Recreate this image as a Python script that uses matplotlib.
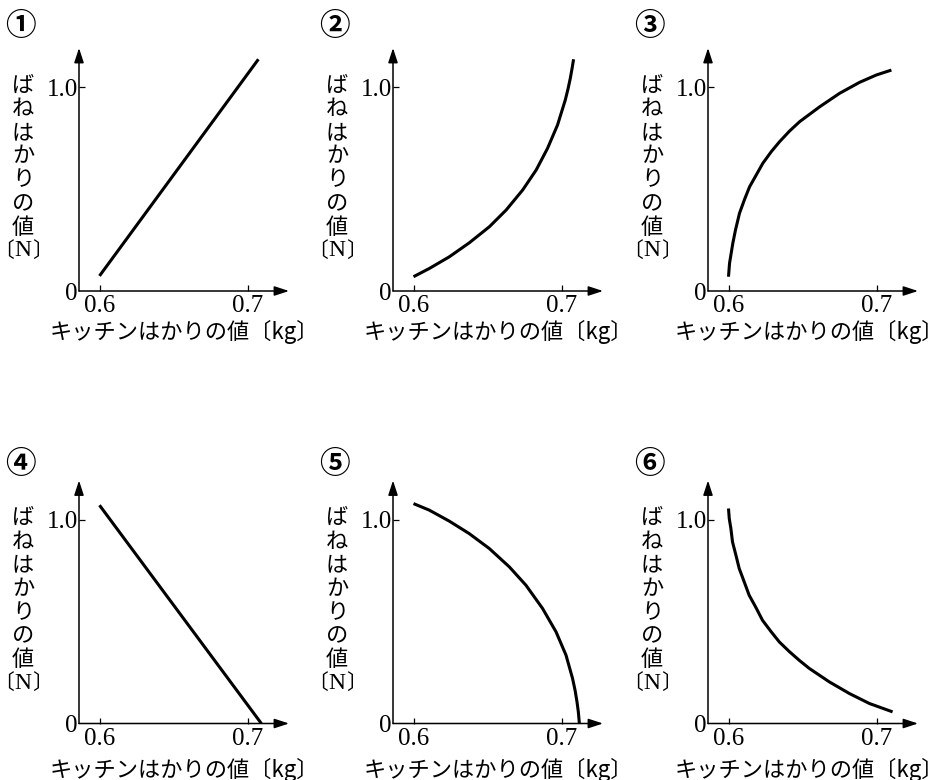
import matplotlib
matplotlib.use('agg')
from matplotlib import pyplot as plt

plt.rcParams['font.family'] = ['Noto Sans CJK JP', 'DejaVu Sans']

# ---- data (x: kitchen scale kg, y: spring scale N)
panel_marks = ["①", "②", "③", "④", "⑤", "⑥"]

x1 = [0.600, 0.707]
y1 = [0.074, 1.136]

x2 = [0.600, 0.6108, 0.6242, 0.6377, 0.6511, 0.6624, 0.6735, 0.6826, 0.6903, 0.6970, 0.7022,
      0.7040, 0.7056, 0.7068, 0.7078]
y2 = [0.070, 0.111, 0.168, 0.237, 0.315, 0.397, 0.495, 0.593, 0.700, 0.814, 0.936,
      0.989, 1.043, 1.092, 1.136]

x3 = [0.600, 0.6007, 0.6018, 0.6029, 0.6047, 0.6074, 0.6108, 0.6142, 0.6187, 0.6231, 0.6288,
      0.6344, 0.6411, 0.6479, 0.6614, 0.6748, 0.6883, 0.6996, 0.7097]
y3 = [0.070, 0.136, 0.185, 0.234, 0.299, 0.381, 0.449, 0.511, 0.569, 0.626, 0.683,
      0.732, 0.784, 0.830, 0.903, 0.969, 1.023, 1.059, 1.083]

x4 = [0.600, 0.709]
y4 = [1.070, 0.000]

x5 = [0.600, 0.6106, 0.6241, 0.6375, 0.6510, 0.6645, 0.6757, 0.6869, 0.6960, 0.7027, 0.7071,
      0.7088, 0.7101, 0.7110, 0.7117]
y5 = [1.078, 1.046, 0.992, 0.931, 0.858, 0.768, 0.678, 0.564, 0.449, 0.335, 0.221,
      0.163, 0.106, 0.057, 0.000]

x6 = [0.600, 0.6005, 0.6016, 0.6027, 0.6050, 0.6072, 0.6106, 0.6139, 0.6185, 0.6229, 0.6286,
      0.6342, 0.6409, 0.6476, 0.6544, 0.6679, 0.6814, 0.6949, 0.7105]
y6 = [1.054, 1.005, 0.956, 0.890, 0.825, 0.760, 0.694, 0.629, 0.568, 0.506, 0.451,
      0.400, 0.353, 0.310, 0.270, 0.204, 0.147, 0.098, 0.057]

xs = [x1, x2, x3, x4, x5, x6]
ys = [y1, y2, y3, y4, y5, y6]

x_ticks = [0.6, 0.7]
x_tick_labels = ["0.6", "0.7"]
y_ticks = [0.0, 1.0]
y_tick_labels = ["0", "1.0"]

x_label = "キッチンはかりの値〔kg〕"
y_label_chars = ["ば", "ね", "は", "か", "り", "の", "値"]
y_unit = "N"

# ---- layout (pixels)
W, H = 946, 780
col_x = [79, 393, 708]      # where each y axis sits
row_y = [291, 723.5]        # where each x axis sits
xlab_off = [41, 46]         # x label centre below the axis
xlab_dx = [0, 0, -4]        # keep the right-hand labels inside the frame
mark_off = [265, 259]       # circled number centre above the axis
ax_w, ax_h = 210, 243
px_per_kg = 1485.0          # 0.1 kg -> 148.5 px
px_per_N = 204.0
x0_off = 20.5               # 0.6 tick offset from the y axis

serif = 'Liberation Serif'
fig = plt.figure(figsize=(W / 100, H / 100), dpi=100)


def fx(px):
    return px / W


def fy(py):
    return 1 - py / H


for i in range(6):
    r, c = divmod(i, 3)
    ox, oy = col_x[c], row_y[r]
    ax = fig.add_axes([fx(ox), fy(oy), ax_w / W, ax_h / H])
    ax.patch.set_alpha(0)

    ax.plot(xs[i], ys[i], color='black', lw=2.2, solid_capstyle='butt',
            solid_joinstyle='round')

    ax.set_xlim(0.6 - x0_off / px_per_kg, 0.6 + (ax_w - x0_off) / px_per_kg)
    ax.set_ylim(0, ax_h / px_per_N)

    for s in ax.spines.values():
        s.set_visible(False)

    # axes with arrow heads
    arrow = dict(arrowstyle='-|>,head_length=0.55,head_width=0.18',
                 color='black', lw=1.1, shrinkA=0, shrinkB=0, mutation_scale=16)
    ax.annotate('', xy=(1, 0), xytext=(0, 0), xycoords='axes fraction', arrowprops=arrow)
    ax.annotate('', xy=(0, 1), xytext=(0, 0), xycoords='axes fraction', arrowprops=arrow)

    ax.set_xticks(x_ticks)
    ax.set_xticklabels(x_tick_labels, family=serif, fontsize=18)
    ax.set_yticks(y_ticks)
    ax.set_yticklabels(y_tick_labels, family=serif, fontsize=18)
    ax.tick_params(axis='x', direction='in', length=4.5, width=0.9, pad=3)
    ax.tick_params(axis='y', direction='in', length=4.5, width=0.9, pad=1)
    ax.yaxis.get_major_ticks()[0].tick1line.set_visible(False)

    # x label
    fig.text(fx(ox + ax_w / 2 + xlab_dx[c]), fy(oy + xlab_off[r]), x_label,
             ha='center', va='center', fontsize=16)

    # vertical y label
    cx = ox - 56
    top = oy - 206
    step = 23.7
    for k, ch in enumerate(y_label_chars):
        fig.text(fx(cx), fy(top + k * step), ch, ha='center', va='center', fontsize=16)
    uy = top + len(y_label_chars) * step
    fig.text(fx(cx), fy(uy), y_unit, ha='center', va='center', fontsize=17, family=serif)
    fig.text(fx(cx - 9), fy(uy), "〔", ha='right', va='center', fontsize=15)
    fig.text(fx(cx + 9), fy(uy), "〕", ha='left', va='center', fontsize=15)

    # panel number
    fig.text(fx(ox - 59), fy(oy - mark_off[r]), panel_marks[i], ha='center', va='center',
             fontsize=22, fontweight='bold')

fig.savefig('out.png', dpi=100, facecolor='white')
